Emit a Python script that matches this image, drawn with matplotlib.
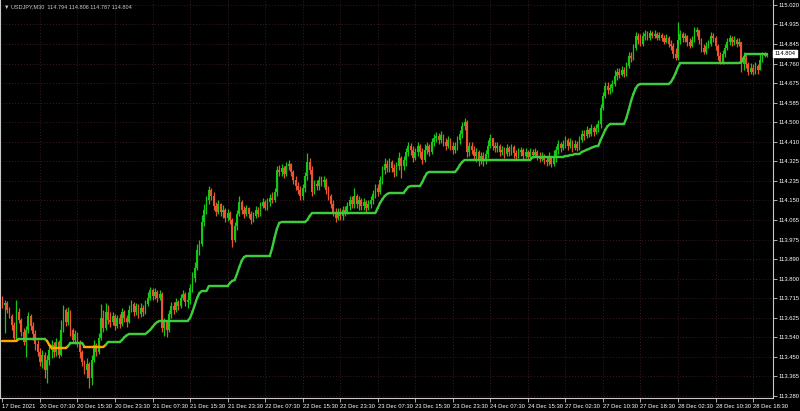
import numpy as np
import matplotlib
matplotlib.use("Agg")
import matplotlib.pyplot as plt
from matplotlib.collections import LineCollection
from matplotlib.transforms import blended_transform_factory

plt.rcParams["font.family"] = ["Liberation Sans", "DejaVu Sans"]

# USDJPY M30 candles (open of each bar = previous close)
first_open = 113.711
closes = [
    113.685, 113.694, 113.663, 113.636, 113.596, 113.538, 113.654, 113.618, 113.565, 113.520,
    113.574, 113.636, 113.591, 113.556, 113.511, 113.476, 113.431, 113.462, 113.396, 113.440,
    113.485, 113.507, 113.476, 113.520, 113.462, 113.574, 113.663, 113.609, 113.654, 113.574,
    113.529, 113.556, 113.520, 113.476, 113.431, 113.396, 113.422, 113.360, 113.440, 113.507,
    113.476, 113.538, 113.627, 113.583, 113.654, 113.618, 113.609, 113.636, 113.591, 113.627,
    113.600, 113.654, 113.627, 113.609, 113.663, 113.689, 113.654, 113.680, 113.645, 113.671,
    113.654, 113.689, 113.716, 113.752, 113.725, 113.743, 113.716, 113.734, 113.583, 113.609,
    113.574, 113.645, 113.680, 113.663, 113.698, 113.680, 113.716, 113.734, 113.698, 113.707,
    113.760, 113.805, 113.849, 113.930, 113.956, 114.054, 114.108, 114.152, 114.197, 114.170,
    114.125, 114.099, 114.134, 114.099, 114.108, 114.072, 114.094, 114.063, 113.974, 114.036,
    114.090, 114.143, 114.108, 114.090, 114.116, 114.090, 114.063, 114.081, 114.108, 114.090,
    114.125, 114.143, 114.116, 114.143, 114.161, 114.152, 114.188, 114.286, 114.277, 114.294,
    114.268, 114.303, 114.312, 114.277, 114.241, 114.214, 114.197, 114.170, 114.205, 114.259,
    114.321, 114.286, 114.188, 114.223, 114.214, 114.241, 114.232, 114.241, 114.197, 114.170,
    114.134, 114.099, 114.072, 114.099, 114.081, 114.108, 114.099, 114.125, 114.152, 114.134,
    114.170, 114.134, 114.152, 114.125, 114.143, 114.116, 114.134, 114.152, 114.179, 114.205,
    114.188, 114.241, 114.286, 114.312, 114.294, 114.321, 114.294, 114.277, 114.303, 114.339,
    114.303, 114.330, 114.366, 114.392, 114.375, 114.339, 114.366, 114.392, 114.366, 114.330,
    114.375, 114.392, 114.366, 114.410, 114.428, 114.437, 114.419, 114.441, 114.410, 114.392,
    114.419, 114.392, 114.375, 114.392, 114.419, 114.446, 114.481, 114.499, 114.366, 114.392,
    114.375, 114.348, 114.366, 114.330, 114.348, 114.330, 114.357, 114.392, 114.428, 114.392,
    114.384, 114.392, 114.366, 114.375, 114.357, 114.384, 114.366, 114.388, 114.361, 114.348,
    114.366, 114.375, 114.348, 114.366, 114.343, 114.366, 114.352, 114.366, 114.348, 114.335,
    114.348, 114.330, 114.321, 114.339, 114.312, 114.339, 114.375, 114.401, 114.384, 114.401,
    114.419, 114.392, 114.410, 114.384, 114.401, 114.384, 114.419, 114.446, 114.437, 114.464,
    114.446, 114.472, 114.455, 114.472, 114.490, 114.561, 114.615, 114.659, 114.642, 114.650,
    114.668, 114.704, 114.722, 114.708, 114.731, 114.713, 114.748, 114.793, 114.784, 114.828,
    114.882, 114.864, 114.846, 114.882, 114.891, 114.873, 114.895, 114.882, 114.891, 114.873,
    114.886, 114.873, 114.855, 114.873, 114.846, 114.837, 114.802, 114.784, 114.864, 114.891,
    114.873, 114.882, 114.855, 114.837, 114.864, 114.900, 114.909, 114.864, 114.828, 114.811,
    114.837, 114.846, 114.882, 114.873, 114.837, 114.793, 114.766, 114.802, 114.828, 114.855,
    114.873, 114.855, 114.864, 114.846, 114.855, 114.757, 114.784, 114.757, 114.722, 114.739,
    114.722, 114.748, 114.731, 114.775, 114.797, 114.794, 114.804,
]
highs = [
    113.725, 113.707, 113.703, 113.676, 113.645, 113.609, 113.707, 113.671, 113.627, 113.583,
    113.591, 113.654, 113.645, 113.609, 113.574, 113.529, 113.493, 113.485, 113.476, 113.462,
    113.507, 113.529, 113.520, 113.538, 113.529, 113.618, 113.685, 113.671, 113.676, 113.663,
    113.583, 113.574, 113.565, 113.529, 113.485, 113.440, 113.449, 113.431, 113.462, 113.529,
    113.516, 113.560, 113.689, 113.663, 113.694, 113.685, 113.654, 113.654, 113.645, 113.640,
    113.645, 113.671, 113.663, 113.640, 113.685, 113.707, 113.698, 113.694, 113.689, 113.694,
    113.685, 113.707, 113.743, 113.765, 113.760, 113.760, 113.752, 113.752, 113.743, 113.627,
    113.618, 113.663, 113.698, 113.698, 113.716, 113.707, 113.734, 113.752, 113.743, 113.743,
    113.778, 113.832, 113.876, 113.956, 113.974, 114.085, 114.134, 114.170, 114.214, 114.205,
    114.188, 114.143, 114.152, 114.139, 114.130, 114.116, 114.112, 114.103, 114.072, 114.054,
    114.108, 114.170, 114.152, 114.125, 114.130, 114.121, 114.103, 114.099, 114.125, 114.121,
    114.143, 114.161, 114.152, 114.161, 114.179, 114.188, 114.205, 114.303, 114.308, 114.312,
    114.303, 114.321, 114.330, 114.317, 114.286, 114.259, 114.232, 114.214, 114.223, 114.277,
    114.361, 114.339, 114.303, 114.241, 114.241, 114.259, 114.259, 114.259, 114.250, 114.214,
    114.179, 114.152, 114.116, 114.116, 114.116, 114.125, 114.125, 114.143, 114.170, 114.170,
    114.205, 114.179, 114.170, 114.161, 114.161, 114.152, 114.152, 114.170, 114.197, 114.223,
    114.223, 114.259, 114.303, 114.339, 114.330, 114.339, 114.330, 114.312, 114.321, 114.366,
    114.348, 114.348, 114.384, 114.410, 114.406, 114.392, 114.384, 114.410, 114.401, 114.384,
    114.401, 114.410, 114.401, 114.428, 114.446, 114.455, 114.450, 114.459, 114.446, 114.428,
    114.437, 114.428, 114.410, 114.410, 114.437, 114.464, 114.499, 114.517, 114.508, 114.410,
    114.410, 114.392, 114.384, 114.375, 114.366, 114.366, 114.375, 114.419, 114.446, 114.419,
    114.410, 114.410, 114.401, 114.392, 114.388, 114.401, 114.392, 114.401, 114.397, 114.375,
    114.384, 114.388, 114.384, 114.384, 114.375, 114.384, 114.379, 114.384, 114.375, 114.366,
    114.366, 114.357, 114.348, 114.366, 114.348, 114.375, 114.392, 114.419, 114.410, 114.419,
    114.437, 114.428, 114.428, 114.419, 114.419, 114.415, 114.437, 114.464, 114.464, 114.481,
    114.472, 114.490, 114.481, 114.490, 114.508, 114.579, 114.633, 114.677, 114.677, 114.668,
    114.686, 114.731, 114.739, 114.739, 114.748, 114.744, 114.766, 114.811, 114.811, 114.846,
    114.900, 114.895, 114.891, 114.900, 114.909, 114.904, 114.909, 114.904, 114.909, 114.900,
    114.900, 114.895, 114.886, 114.891, 114.882, 114.864, 114.851, 114.828, 114.944, 114.909,
    114.900, 114.895, 114.886, 114.873, 114.882, 114.922, 114.922, 114.909, 114.873, 114.846,
    114.855, 114.864, 114.900, 114.895, 114.882, 114.846, 114.811, 114.820, 114.846, 114.873,
    114.886, 114.882, 114.882, 114.873, 114.873, 114.855, 114.811, 114.797, 114.766, 114.762,
    114.757, 114.766, 114.757, 114.802, 114.811, 114.811, 114.806,
]
lows = [
    113.671, 113.560, 113.649, 113.627, 113.574, 113.525, 113.529, 113.605, 113.547, 113.507,
    113.453, 113.560, 113.574, 113.529, 113.485, 113.458, 113.413, 113.404, 113.360, 113.338,
    113.418, 113.449, 113.453, 113.458, 113.449, 113.458, 113.565, 113.591, 113.596, 113.547,
    113.516, 113.511, 113.498, 113.449, 113.413, 113.378, 113.360, 113.315, 113.329, 113.431,
    113.458, 113.467, 113.529, 113.565, 113.574, 113.600, 113.587, 113.596, 113.574, 113.583,
    113.583, 113.591, 113.609, 113.587, 113.605, 113.654, 113.636, 113.640, 113.627, 113.631,
    113.636, 113.645, 113.680, 113.707, 113.707, 113.712, 113.698, 113.707, 113.565, 113.547,
    113.542, 113.565, 113.627, 113.645, 113.654, 113.663, 113.671, 113.707, 113.680, 113.671,
    113.689, 113.743, 113.787, 113.841, 113.907, 113.947, 114.036, 114.090, 114.134, 114.152,
    114.108, 114.081, 114.090, 114.081, 114.072, 114.054, 114.059, 114.045, 113.943, 113.965,
    114.019, 114.081, 114.090, 114.072, 114.081, 114.072, 114.045, 114.054, 114.072, 114.076,
    114.081, 114.116, 114.108, 114.108, 114.125, 114.139, 114.143, 114.170, 114.259, 114.259,
    114.250, 114.259, 114.286, 114.259, 114.223, 114.197, 114.179, 114.152, 114.152, 114.188,
    114.241, 114.268, 114.170, 114.179, 114.197, 114.197, 114.214, 114.210, 114.179, 114.152,
    114.116, 114.081, 114.054, 114.063, 114.063, 114.063, 114.081, 114.090, 114.108, 114.116,
    114.116, 114.116, 114.108, 114.108, 114.108, 114.099, 114.108, 114.116, 114.134, 114.161,
    114.170, 114.179, 114.223, 114.268, 114.277, 114.277, 114.277, 114.254, 114.259, 114.286,
    114.250, 114.286, 114.303, 114.348, 114.352, 114.321, 114.330, 114.348, 114.339, 114.312,
    114.321, 114.357, 114.348, 114.357, 114.392, 114.410, 114.401, 114.406, 114.392, 114.375,
    114.384, 114.375, 114.357, 114.361, 114.375, 114.401, 114.428, 114.464, 114.343, 114.348,
    114.357, 114.330, 114.321, 114.303, 114.312, 114.303, 114.312, 114.339, 114.384, 114.375,
    114.366, 114.366, 114.348, 114.352, 114.339, 114.348, 114.348, 114.352, 114.339, 114.330,
    114.339, 114.348, 114.330, 114.339, 114.330, 114.339, 114.339, 114.343, 114.330, 114.321,
    114.326, 114.312, 114.303, 114.308, 114.299, 114.303, 114.321, 114.357, 114.366, 114.375,
    114.384, 114.375, 114.384, 114.366, 114.375, 114.370, 114.375, 114.410, 114.419, 114.428,
    114.432, 114.437, 114.437, 114.446, 114.455, 114.472, 114.553, 114.606, 114.624, 114.624,
    114.633, 114.659, 114.686, 114.695, 114.704, 114.699, 114.704, 114.739, 114.766, 114.775,
    114.820, 114.846, 114.837, 114.837, 114.864, 114.864, 114.864, 114.873, 114.873, 114.864,
    114.864, 114.860, 114.846, 114.851, 114.833, 114.820, 114.784, 114.775, 114.775, 114.846,
    114.855, 114.855, 114.837, 114.828, 114.833, 114.855, 114.882, 114.846, 114.811, 114.802,
    114.802, 114.828, 114.837, 114.855, 114.820, 114.775, 114.757, 114.757, 114.788, 114.820,
    114.842, 114.837, 114.842, 114.833, 114.837, 114.722, 114.731, 114.739, 114.708, 114.713,
    114.708, 114.713, 114.713, 114.731, 114.766, 114.788, 114.787,
]
# trailing stop line
trail = [
    113.525, 113.525, 113.525, 113.525, 113.525, 113.525, 113.525, 113.534, 113.534, 113.534,
    113.534, 113.534, 113.534, 113.534, 113.534, 113.534, 113.534, 113.534, 113.534, 113.525,
    113.507, 113.493, 113.493, 113.493, 113.493, 113.493, 113.493, 113.493, 113.502, 113.516,
    113.516, 113.516, 113.516, 113.516, 113.516, 113.498, 113.498, 113.498, 113.498, 113.498,
    113.498, 113.498, 113.498, 113.498, 113.507, 113.520, 113.520, 113.520, 113.520, 113.520,
    113.520, 113.529, 113.542, 113.550, 113.556, 113.556, 113.556, 113.556, 113.556, 113.556,
    113.556, 113.556, 113.565, 113.574, 113.587, 113.600, 113.609, 113.614, 113.614, 113.614,
    113.614, 113.614, 113.614, 113.614, 113.614, 113.614, 113.614, 113.614, 113.614, 113.614,
    113.627, 113.654, 113.685, 113.716, 113.738, 113.747, 113.747, 113.747, 113.769, 113.769,
    113.769, 113.769, 113.769, 113.769, 113.769, 113.769, 113.769, 113.783, 113.792, 113.796,
    113.823, 113.854, 113.881, 113.898, 113.903, 113.903, 113.903, 113.903, 113.903, 113.903,
    113.903, 113.903, 113.903, 113.903, 113.903, 113.938, 113.983, 114.023, 114.050, 114.054,
    114.054, 114.054, 114.054, 114.054, 114.054, 114.054, 114.054, 114.054, 114.054, 114.054,
    114.063, 114.081, 114.094, 114.094, 114.094, 114.094, 114.094, 114.094, 114.094, 114.094,
    114.094, 114.094, 114.094, 114.094, 114.094, 114.094, 114.094, 114.094, 114.094, 114.094,
    114.094, 114.094, 114.094, 114.094, 114.094, 114.094, 114.094, 114.094, 114.094, 114.094,
    114.116, 114.139, 114.156, 114.170, 114.179, 114.183, 114.183, 114.183, 114.183, 114.183,
    114.183, 114.183, 114.197, 114.210, 114.214, 114.214, 114.214, 114.214, 114.214, 114.232,
    114.254, 114.272, 114.277, 114.277, 114.277, 114.277, 114.277, 114.277, 114.277, 114.277,
    114.277, 114.277, 114.277, 114.277, 114.290, 114.308, 114.321, 114.330, 114.330, 114.330,
    114.330, 114.330, 114.330, 114.330, 114.330, 114.330, 114.330, 114.330, 114.330, 114.330,
    114.330, 114.330, 114.330, 114.330, 114.330, 114.330, 114.330, 114.330, 114.330, 114.330,
    114.330, 114.330, 114.330, 114.330, 114.330, 114.330, 114.343, 114.343, 114.343, 114.343,
    114.343, 114.343, 114.343, 114.343, 114.343, 114.343, 114.343, 114.343, 114.343, 114.343,
    114.348, 114.348, 114.352, 114.352, 114.357, 114.357, 114.357, 114.366, 114.370, 114.375,
    114.379, 114.384, 114.388, 114.392, 114.392, 114.419, 114.441, 114.464, 114.481, 114.490,
    114.490, 114.490, 114.490, 114.490, 114.490, 114.490, 114.517, 114.553, 114.593, 114.624,
    114.650, 114.664, 114.668, 114.668, 114.668, 114.668, 114.668, 114.668, 114.668, 114.668,
    114.668, 114.668, 114.668, 114.668, 114.668, 114.677, 114.695, 114.717, 114.744, 114.762,
    114.762, 114.762, 114.762, 114.762, 114.762, 114.762, 114.762, 114.762, 114.762, 114.762,
    114.762, 114.762, 114.762, 114.762, 114.762, 114.762, 114.762, 114.762, 114.762, 114.762,
    114.762, 114.762, 114.762, 114.762, 114.762, 114.766, 114.784, 114.802, 114.802, 114.802,
    114.802, 114.802, 114.802, 114.802, 114.802, 114.802, 114.802,
]
# bar ranges where the line is in its "down" colour
down_spans = [(0, 6), (19, 27), (35, 43)]

time_labels = ["17 Dec 2021", "20 Dec 07:30", "20 Dec 15:30", "20 Dec 23:30", "21 Dec 07:30",
               "21 Dec 15:30", "21 Dec 23:30", "22 Dec 07:30", "22 Dec 15:30", "22 Dec 23:30",
               "23 Dec 07:30", "23 Dec 15:30", "23 Dec 23:30", "24 Dec 07:30", "24 Dec 15:30",
               "27 Dec 02:30", "27 Dec 10:30", "27 Dec 18:30", "28 Dec 02:30", "28 Dec 10:30",
               "28 Dec 18:30"]
bars_per_label = 16
price_labels = ["113.280", "113.365", "113.450", "113.540", "113.625", "113.715", "113.800",
                "113.890", "113.975", "114.065", "114.150", "114.235", "114.325", "114.410",
                "114.500", "114.585", "114.675", "114.760", "114.845", "114.935", "115.020"]
price_lo, price_hi = 113.280, 115.020
title = "\u25bc USDJPY,M30  114.794 114.806 114.787 114.804"

BULL = "#14c814"
BEAR = "#ec5430"
LINE_UP = "#3ccc3c"
LINE_DOWN = "#ffa500"
GRID = "#3a1c1c"
FG = "#c8c8c8"
FS = 4.2

close = np.array(closes)
opn = np.r_[first_open, close[:-1]]
high = np.maximum(np.array(highs), np.maximum(opn, close))
low = np.minimum(np.array(lows), np.minimum(opn, close))
x = np.arange(len(close))

fig = plt.figure(figsize=(8, 4.11), dpi=100, facecolor="black")
ax = fig.add_axes([0.0, 13 / 411, 773 / 800, 398 / 411])
ax.set_facecolor("black")

up = close >= opn
cols = np.where(up, BULL, BEAR)
ax.vlines(x, low, high, colors=cols, linewidth=0.9, zorder=3)
body_bottom = np.minimum(opn, close)
body_h = np.maximum(np.abs(close - opn), 0.0015)
ax.bar(x, body_h, bottom=body_bottom, width=0.75, color=cols, linewidth=0, zorder=3)

# trailing line with colour per segment
tr = np.array(trail)
is_down = np.zeros(len(tr), dtype=bool)
for a, b in down_spans:
    is_down[a:b + 1] = True
pts = np.column_stack([x, tr])
segs = np.stack([pts[:-1], pts[1:]], axis=1)
seg_cols = [LINE_DOWN if d else LINE_UP for d in is_down[:-1]]
ax.add_collection(LineCollection(segs, colors=seg_cols, linewidths=1.7,
                                 capstyle="round", joinstyle="round", zorder=4))

# axes and grid
ax.set_xlim(-1.02, 328.5)
ax.set_ylim(113.271, 115.042)
yt = np.linspace(price_lo, price_hi, len(price_labels))
ax.set_yticks(yt)
ax.set_yticklabels(price_labels)
xt = np.arange(len(time_labels)) * bars_per_label
ax.set_xticks(xt)
ax.set_xticklabels(time_labels, ha="left")
ax.yaxis.tick_right()
ax.tick_params(axis="both", colors=FG, labelcolor="white", labelsize=FS,
               length=3, width=0.6, direction="out")
ax.tick_params(axis="y", pad=1.2)
ax.tick_params(axis="x", pad=1.0)
for g in yt:
    ax.axhline(g, color=GRID, linewidth=0.7, linestyle=(0, (1, 2)), zorder=1)
for g in xt[1:]:
    ax.axvline(g, color=GRID, linewidth=0.7, linestyle=(0, (1, 2)), zorder=1)

ax.spines["top"].set_visible(False)
for side in ["left", "right", "bottom"]:
    ax.spines[side].set_color(FG)
    ax.spines[side].set_linewidth(0.8)

# current price tag
tf = blended_transform_factory(ax.transAxes, ax.transData)
ax.text(1.002, close[-1], "%.3f" % close[-1], transform=tf, ha="left", va="center",
        fontsize=FS, color="black", clip_on=False,
        bbox=dict(boxstyle="square,pad=0.25", facecolor="white", edgecolor="white"))

fig.text(4 / 800, 1 - 7 / 411, title, color=FG, fontsize=4.0, ha="left", va="center")

fig.savefig("out.png", dpi=100, facecolor="black")
